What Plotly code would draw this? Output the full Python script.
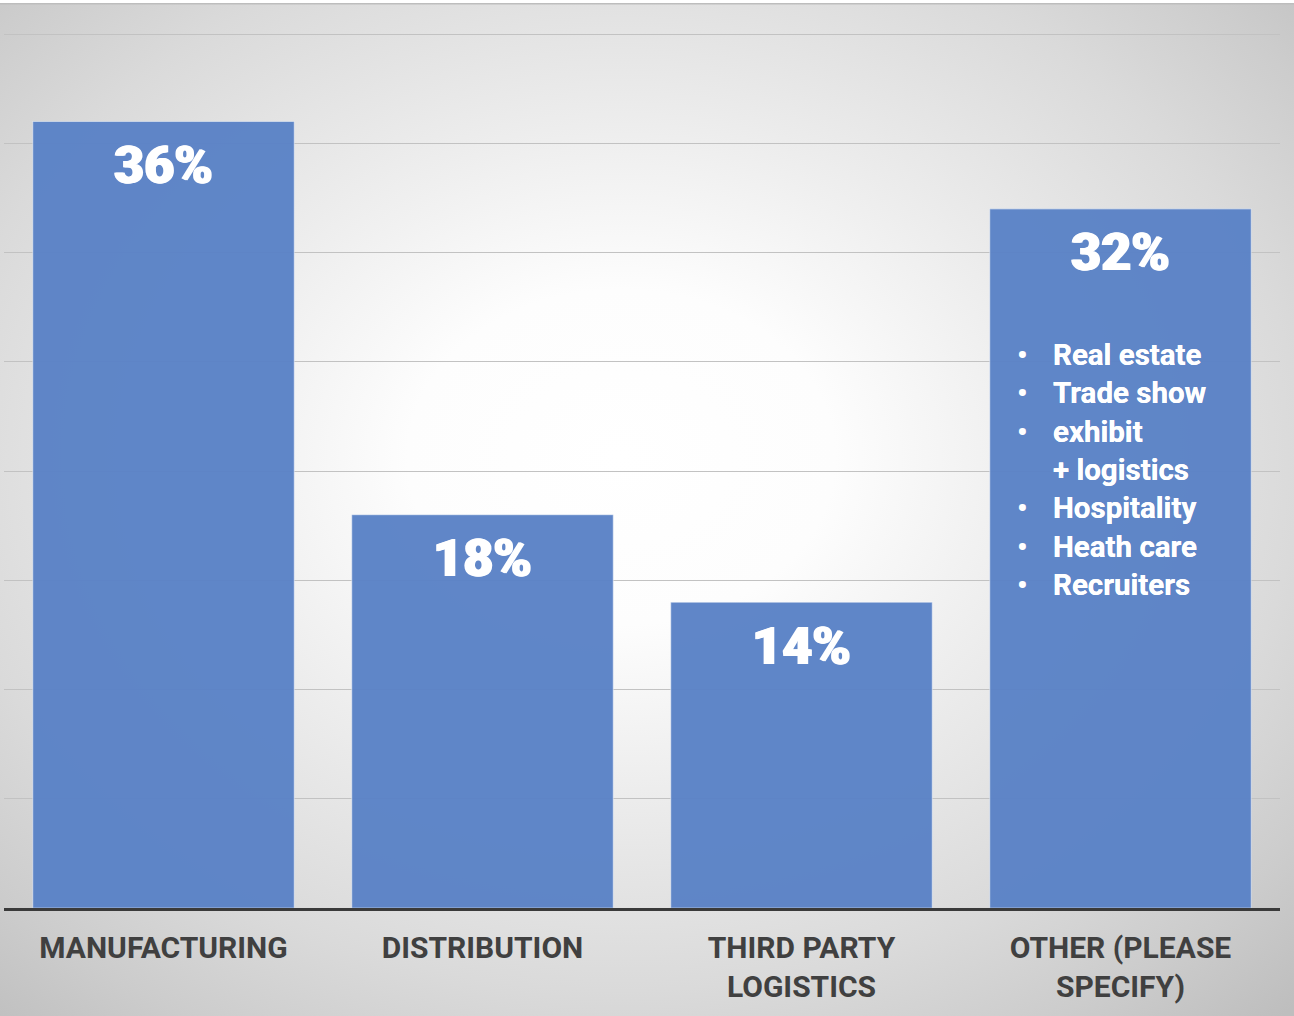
import base64
import plotly.graph_objects as go

# Survey share by industry segment
categories = ["MANUFACTURING", "DISTRIBUTION", "THIRD PARTY<br>LOGISTICS", "OTHER (PLEASE<br>SPECIFY)"]
shares = [36, 18, 14, 32]
value_labels = ["36%", "18%", "14%", "32%"]

# Breakdown listed inside the "Other" bar
other_items = ["Real estate", "Trade show", "exhibit", "+ logistics", "Hospitality", "Heath care", "Recruiters"]
other_bullets = ["•", "•", "•", "&#160;", "•", "•", "•"]

y_ticks = [0, 5, 10, 15, 20, 25, 30, 35, 40]

W, H = 1294, 1016
M = dict(l=4, r=14, t=33, b=108)
plot_w = W - M["l"] - M["r"]
plot_h = H - M["t"] - M["b"]

BAR_COLOR = "#5b83c7"
LABEL_DARK = "#404040"

# Soft radial backdrop: white in the middle, fading to grey at the edges
bg_svg = f"""<svg xmlns='http://www.w3.org/2000/svg' width='{W}' height='{H}' viewBox='0 0 {W} {H}' preserveAspectRatio='none'>
<defs>
<radialGradient id='g' cx='0.48' cy='0.45' r='0.75'>
<stop offset='0' stop-color='#ffffff'/>
<stop offset='0.22' stop-color='#fdfdfd'/>
<stop offset='0.45' stop-color='#ececec'/>
<stop offset='0.70' stop-color='#dadada'/>
<stop offset='0.86' stop-color='#cccccc'/>
<stop offset='1' stop-color='#bebebe'/>
</radialGradient>
</defs>
<rect x='0' y='0' width='{W}' height='{H}' fill='url(#g)'/>
<rect x='0' y='0' width='{W}' height='3' fill='#ffffff'/>
<line x1='0' y1='3.8' x2='{W}' y2='3.8' stroke='#bdbdbd' stroke-width='1.6'/>
</svg>"""
bg_uri = "data:image/svg+xml;base64," + base64.b64encode(bg_svg.encode()).decode()

fig = go.Figure()
fig.add_trace(go.Bar(
    x=categories,
    y=shares,
    marker=dict(color=BAR_COLOR, opacity=0.97,
                line=dict(color="rgba(255,255,255,0.45)", width=1.2)),
    hoverinfo="skip",
))

annotations = []
# Percentage labels, stacked with a sub-pixel offset for a heavier stroke
for cat, val, lab in zip(categories, shares, value_labels):
    for dx in (-0.8, 0.0, 0.8):
        annotations.append(dict(
            x=cat, y=val, xref="x", yref="y", text=lab, showarrow=False,
            yanchor="middle", yshift=-44, xshift=dx,
            font=dict(family="Roboto", size=52, color="white", weight=900),
        ))

list_font = dict(family="Roboto", size=29.5, color="white", weight=700)
for dx in (0.0, 0.5):
    annotations.append(dict(
        x=categories[3], y=shares[3], xref="x", yref="y",
        text="<br>".join(other_items), showarrow=False,
        xanchor="left", yanchor="top", align="left", xshift=-70 + dx, yshift=-127,
        font=list_font,
    ))
annotations.append(dict(
    x=categories[3], y=shares[3], xref="x", yref="y",
    text="<br>".join(other_bullets), showarrow=False,
    xanchor="center", yanchor="top", align="center", xshift=-98, yshift=-127,
    font=list_font,
))

fig.update_layout(
    width=W, height=H,
    margin=M,
    paper_bgcolor="#d0d0d0",
    plot_bgcolor="rgba(0,0,0,0)",
    showlegend=False,
    bargap=0.18,
    annotations=annotations,
    images=[dict(
        source=bg_uri, xref="paper", yref="paper",
        x=-M["l"] / plot_w, y=(plot_h + M["t"]) / plot_h,
        sizex=W / plot_w, sizey=H / plot_h,
        xanchor="left", yanchor="top", sizing="stretch", layer="below",
    )],
    xaxis=dict(
        showline=True, linecolor="#3a3a3a", linewidth=3,
        ticks="", showgrid=False,
        tickfont=dict(family="Roboto", size=30, color=LABEL_DARK, weight=700),
        ticklabelstandoff=11,
        fixedrange=True,
    ),
    yaxis=dict(
        range=[0, 40.05], tickvals=y_ticks, showticklabels=False,
        showgrid=True, gridcolor="#c2c2c2", gridwidth=1.3,
        zeroline=False, fixedrange=True,
    ),
)

fig.write_html("out.html")
